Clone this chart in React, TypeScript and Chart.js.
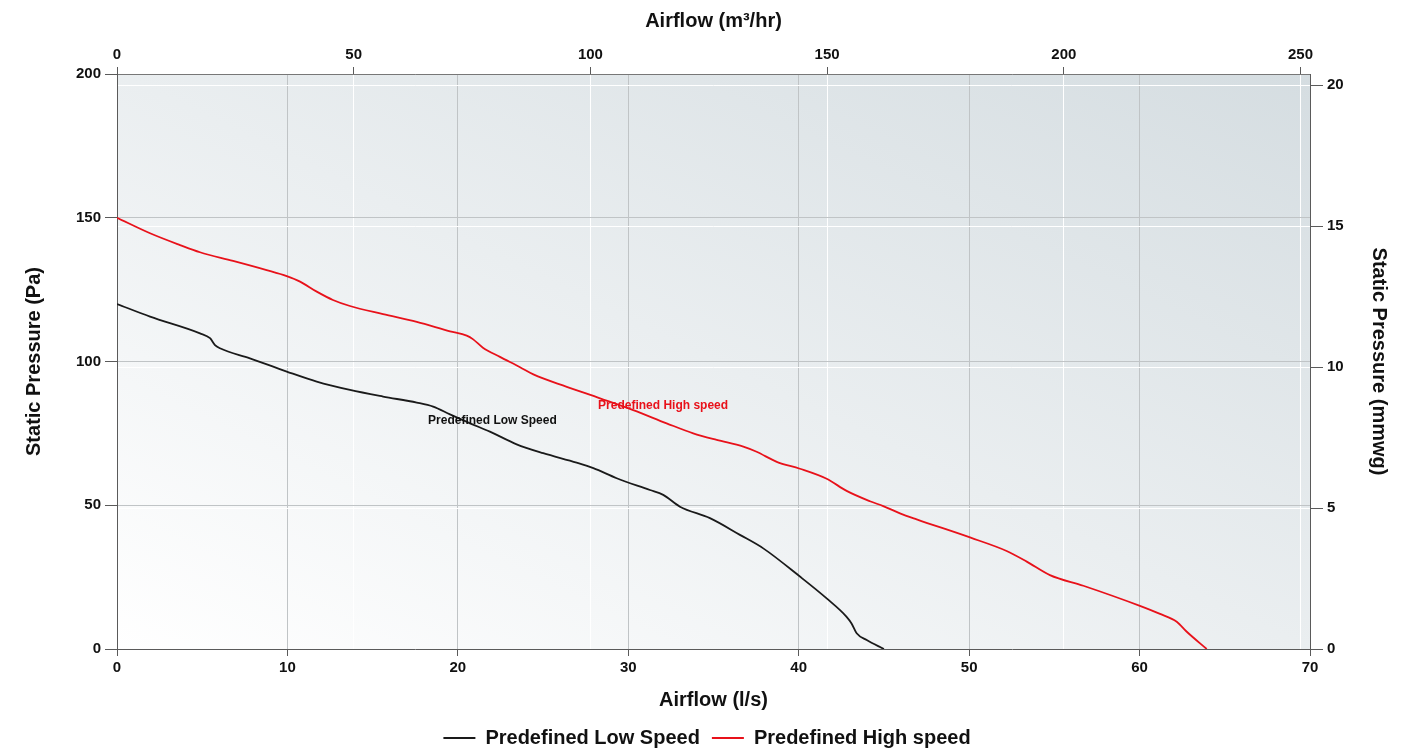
import React, { useEffect, useRef } from 'react';
import { Chart, registerables } from 'chart.js';

Chart.register(...registerables);

// ---- data ----
const seriesLabels = ['Predefined Low Speed', 'Predefined High speed'];

const lowFlow = [0, 1.94, 4.87, 5.46, 5.75, 6.04, 7.8, 9.96, 11.72, 13.67, 15.61, 17.59, 18.55, 19.54, 20.71, 21.88, 23.45, 25.01, 26.97, 27.95, 29.32, 31.27, 32.05, 33.03, 34.79, 36.55, 37.92, 40.07, 41.64, 42.81, 43.1, 43.4, 43.99, 45.0];
const lowPressure = [120, 115.6, 109.8, 108.1, 105.7, 104.6, 101.1, 96.5, 93.0, 90.1, 87.8, 85.7, 84.3, 81.6, 78.5, 75.6, 71.2, 68.1, 64.8, 62.9, 59.4, 55.3, 53.6, 49.5, 45.5, 39.7, 35.0, 25.2, 17.6, 11.2, 8.9, 5.5, 3.1, 0];

const highFlow = [0, 1.94, 3.7, 4.87, 6.81, 8.78, 9.96, 10.74, 11.72, 12.67, 13.67, 15.61, 17.59, 19.54, 20.52, 20.9, 21.47, 22.47, 23.65, 24.43, 26.39, 28.34, 30.29, 32.25, 33.81, 35.19, 36.75, 37.53, 38.71, 40.07, 41.64, 42.81, 44.18, 44.96, 45.94, 46.92, 50.05, 52.2, 53.38, 54.74, 56.7, 60.02, 61.2, 62.18, 62.77, 63.94];
const highPressure = [150, 144.6, 140.5, 138.0, 135.0, 131.8, 129.7, 127.8, 124.3, 121.4, 119.3, 116.5, 113.8, 110.5, 109.0, 107.7, 104.8, 101.6, 98.0, 95.5, 91.2, 87.2, 83.1, 78.5, 75.0, 72.7, 70.4, 68.6, 65.1, 62.7, 59.2, 55.0, 51.4, 49.7, 47.2, 45.1, 38.8, 34.1, 30.4, 25.7, 22.0, 15.0, 12.2, 9.5, 6.0, 0];

const flowTicks = [0, 10, 20, 30, 40, 50, 60, 70]; // l/s
const m3hTicks = [0, 50, 100, 150, 200, 250]; // m³/hr
const paTicks = [0, 50, 100, 150, 200]; // Pa
const mmwgTicks = [0, 5, 10, 15, 20]; // mmwg

const annotationTexts = ['Predefined Low Speed', 'Predefined High speed'];
const annotationFlow = [22.03, 32.04];
const annotationPressure = [79.3, 84.5];

const FLOW_MAX = 70;
const PA_MAX = 200;
const LS_TO_M3H = 3.6;
const PA_PER_MMWG = 9.80665;

// ---- styles ----
const FONT = '"Liberation Sans", Arial, Helvetica, sans-serif';
const TEXT = '#111111';
const AXIS = '#5a5a5a';
const GRID = '#c0c4c6';
const GRID2 = '#ffffff';
const LOW_COLOR = '#1a1a1a';
const HIGH_COLOR = '#e8111a';
const colors = [LOW_COLOR, HIGH_COLOR];

const tickFont = { family: FONT, size: 15, weight: 'bold' as const };
const titleFont = { family: FONT, size: 20, weight: 'bold' as const };

const bgPlugin = {
  id: 'plotBg',
  beforeDraw(chart: any) {
    const { ctx, chartArea } = chart;
    if (!chartArea) return;
    const { left, top, width, height } = chartArea;
    ctx.save();
    ctx.translate(left, top);
    ctx.scale(width, height);
    const g = ctx.createLinearGradient(0, 1, 1, 0);
    g.addColorStop(0, '#ffffff');
    g.addColorStop(1, '#d5dde1');
    ctx.fillStyle = g;
    ctx.fillRect(0, 0, 1, 1);
    ctx.restore();
  },
};

const annotationPlugin = {
  id: 'curveLabels',
  afterDatasetsDraw(chart: any) {
    const { ctx } = chart;
    const xs = chart.scales.x;
    const ys = chart.scales.y;
    ctx.save();
    ctx.font = `bold 12px ${FONT}`;
    ctx.textAlign = 'center';
    ctx.textBaseline = 'middle';
    annotationTexts.forEach((t, i) => {
      ctx.fillStyle = i === 0 ? '#111111' : HIGH_COLOR;
      ctx.fillText(t, xs.getPixelForValue(annotationFlow[i]), ys.getPixelForValue(annotationPressure[i]));
    });
    ctx.restore();
  },
};

const setTicks = (values: number[]) => (scale: any) => {
  scale.ticks = values.map((v) => ({ value: v }));
};

export default function App() {
  const canvasRef = useRef<HTMLCanvasElement | null>(null);

  useEffect(() => {
    if (!canvasRef.current) return;
    const series = [
      lowFlow.map((x, i) => ({ x, y: lowPressure[i] })),
      highFlow.map((x, i) => ({ x, y: highPressure[i] })),
    ];
    const chart = new Chart(canvasRef.current, {
      type: 'line',
      data: {
        datasets: series.map((d, i) => ({
          label: seriesLabels[i],
          data: d,
          borderColor: colors[i],
          backgroundColor: colors[i],
          borderWidth: 1.8,
          pointRadius: 0,
          pointHoverRadius: 0,
          cubicInterpolationMode: 'monotone' as const,
          fill: false,
          xAxisID: 'x',
          yAxisID: 'y',
        })),
      },
      options: {
        animation: false,
        responsive: true,
        maintainAspectRatio: false,
        layout: { padding: { top: 0, left: 0, right: 0, bottom: -6 } },
        plugins: {
          legend: {
            display: true,
            position: 'bottom',
            labels: {
              usePointStyle: true,
              pointStyle: 'line',
              pointStyleWidth: 32,
              font: { family: FONT, size: 20, weight: 'bold' },
              color: TEXT,
              padding: 12,
            },
          },
          tooltip: { enabled: false },
        },
        scales: {
          x: {
            type: 'linear',
            position: 'bottom',
            min: 0,
            max: FLOW_MAX,
            afterBuildTicks: setTicks(flowTicks),
            afterFit: (s: any) => { s.height = 67; },
            grid: { color: GRID, tickColor: AXIS, tickLength: 7, lineWidth: 1 },
            border: { color: AXIS, width: 1 },
            ticks: { font: tickFont, color: TEXT, padding: 3, maxRotation: 0, autoSkip: false },
            title: { display: true, text: 'Airflow (l/s)', font: titleFont, color: TEXT, padding: { top: 0, bottom: 4 } },
          },
          x2: {
            type: 'linear',
            position: 'top',
            min: 0,
            max: FLOW_MAX * LS_TO_M3H,
            afterBuildTicks: setTicks(m3hTicks),
            afterFit: (s: any) => { s.height = 74; },
            grid: { color: GRID2, tickColor: AXIS, tickLength: 7, lineWidth: 1 },
            border: { color: '#777777', width: 1 },
            ticks: { font: tickFont, color: TEXT, padding: 3, maxRotation: 0, autoSkip: false },
            title: { display: true, text: 'Airflow (m³/hr)', font: titleFont, color: TEXT, padding: { top: 9, bottom: 0 } },
          },
          y: {
            type: 'linear',
            position: 'left',
            min: 0,
            max: PA_MAX,
            afterBuildTicks: setTicks(paTicks),
            afterFit: (s: any) => { s.width = 117; },
            grid: { color: GRID, tickColor: AXIS, tickLength: 12, lineWidth: 1 },
            border: { color: AXIS, width: 1 },
            ticks: { font: tickFont, color: TEXT, padding: 4, autoSkip: false },
            title: { display: true, text: 'Static Pressure (Pa)', font: titleFont, color: TEXT, padding: { top: 22, bottom: 0 } },
          },
          y2: {
            type: 'linear',
            position: 'right',
            min: 0,
            max: PA_MAX / PA_PER_MMWG,
            afterBuildTicks: setTicks(mmwgTicks),
            afterFit: (s: any) => { s.width = 104; },
            grid: { color: GRID2, tickColor: AXIS, tickLength: 13, lineWidth: 1 },
            border: { color: AXIS, width: 1 },
            ticks: { font: tickFont, color: TEXT, padding: 4, autoSkip: false },
            title: { display: true, text: 'Static Pressure (mmwg)', font: titleFont, color: TEXT, padding: { top: 23, bottom: 0 } },
          },
        },
      },
      plugins: [bgPlugin, annotationPlugin],
    } as any);
    return () => chart.destroy();
  }, []);

  return (
    <div style={{ position: 'fixed', left: 0, top: 0, width: 1414, height: 752, background: '#ffffff' }}>
      <canvas ref={canvasRef} />
    </div>
  );
}
